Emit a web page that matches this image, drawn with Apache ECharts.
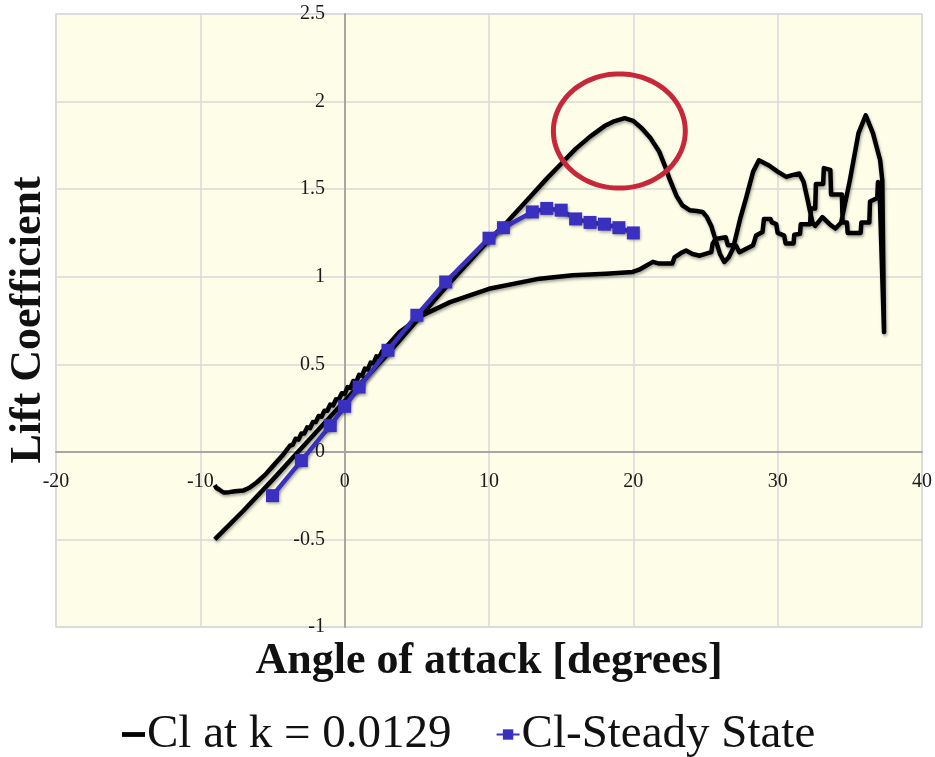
<!DOCTYPE html>
<html>
<head>
<meta charset="utf-8">
<title>Lift Coefficient vs Angle of attack</title>
<script src="https://cdn.jsdelivr.net/npm/echarts@6/dist/echarts.min.js"></script>
<style>
  html, body { margin: 0; padding: 0; background: #ffffff; }
  #chart { width: 935px; height: 757px; }
</style>
</head>
<body>
<div id="chart"></div>
<script>
// Oscillating airfoil, reduced frequency k = 0.0129: pitch-up branch
const dynUpAoa = [-9.0, -7.0, -5.0, -3.0, -1.0, 1.0, 3.0, 5.0, 7.0, 9.0, 10.0, 11.0, 12.0, 13.0, 14.0, 15.0,
  16.0, 17.0, 18.0, 18.6, 19.4, 20.0, 20.6, 21.2, 21.8, 22.2, 22.5, 23.0, 23.4, 23.9, 24.4, 24.8, 25.1,
  25.4, 25.6, 26.0, 26.3, 26.6, 26.9, 27.4, 27.8, 28.3, 28.7, 29.4, 30.0, 30.6, 31.0, 31.5, 31.8, 32.1,
  32.4, 32.6, 33.1, 33.6, 34.0, 34.4, 35.0, 35.6, 36.1, 36.6, 37.1, 37.25, 37.37];
const dynUpCl = [-0.50, -0.335, -0.16, 0.02, 0.20, 0.38, 0.56, 0.75, 0.94, 1.12, 1.21, 1.29, 1.38, 1.47, 1.56, 1.645,
  1.73, 1.80, 1.86, 1.885, 1.905, 1.89, 1.846, 1.79, 1.713, 1.63, 1.56, 1.46, 1.407, 1.38, 1.375, 1.37, 1.34,
  1.29, 1.236, 1.13, 1.084, 1.11, 1.16, 1.33, 1.446, 1.60, 1.665, 1.635, 1.60, 1.57, 1.58, 1.589, 1.541, 1.43,
  1.312, 1.29, 1.34, 1.30, 1.275, 1.31, 1.55, 1.82, 1.922, 1.82, 1.665, 1.55, 0.684];

// Pitch-down branch (returning from 37 deg back to -9 deg)
const dynDownAoa = [37.05, 36.95, 36.9, 36.4, 36.35, 35.8, 35.75, 34.85, 34.8, 34.5, 34.45, 33.7, 33.65, 33.2,
  33.15, 32.65, 32.6, 32.3, 32.25, 31.6, 31.55, 31.15, 31.1, 30.55, 30.45, 30.0, 29.9, 29.6, 29.5, 29.05,
  28.95, 28.5, 28.3, 27.35, 27.1, 26.55, 26.4, 25.7, 25.5, 25.4, 24.6, 24.1, 23.65, 23.4, 22.85, 22.7, 21.8,
  21.35, 20.4, 19.95, 18.1, 15.8, 13.5, 10.0, 7.3, 5.4, 3.8,
  3.0, 2.8, 2.6, 2.4, 2.2, 2.0, 1.8, 1.6, 1.4, 1.2, 1.0, 0.8, 0.6, 0.4, 0.2, 0.0, -0.2, -0.4, -0.6, -0.8,
  -1.0, -1.2, -1.4, -1.6, -1.8, -2.0, -2.2, -2.4, -2.6, -2.8, -3.0, -3.2, -3.4, -3.6, -3.8,
  -4.3, -4.96, -5.5, -6.1, -6.6, -7.0, -7.6, -8.0, -8.4, -8.7, -8.9, -9.0];
const dynDownCl = [1.52, 1.54, 1.45, 1.43, 1.31, 1.31, 1.25, 1.25, 1.31, 1.31, 1.47, 1.47, 1.61, 1.62,
  1.53, 1.53, 1.39, 1.39, 1.30, 1.30, 1.245, 1.24, 1.19, 1.19, 1.235, 1.25, 1.30, 1.31, 1.33, 1.33,
  1.255, 1.235, 1.18, 1.14, 1.18, 1.18, 1.225, 1.215, 1.19, 1.14, 1.12, 1.13, 1.15, 1.14, 1.11, 1.075, 1.075,
  1.085, 1.04, 1.027, 1.017, 1.008, 0.989, 0.931, 0.855, 0.78, 0.684,
  0.61, 0.575, 0.575, 0.54, 0.545, 0.505, 0.51, 0.47, 0.475, 0.435, 0.44, 0.40, 0.405, 0.365, 0.37, 0.33,
  0.335, 0.30, 0.30, 0.265, 0.27, 0.235, 0.235, 0.20, 0.205, 0.17, 0.17, 0.135, 0.14, 0.105, 0.105, 0.07,
  0.075, 0.04, 0.035,
  -0.02, -0.08, -0.13, -0.175, -0.205, -0.22, -0.225, -0.23, -0.232, -0.215, -0.205, -0.19];

// Steady-state polar
const steadyAoa = [-5, -3, -1, 0, 1, 3, 5, 7, 10, 11, 13, 14, 15, 16, 17, 18, 19, 20];
const steadyCl = [-0.25, -0.05, 0.15, 0.26, 0.37, 0.58, 0.78, 0.97, 1.22, 1.28, 1.37, 1.39, 1.38, 1.33, 1.31, 1.30, 1.28, 1.25];

// Highlighted dynamic-stall peak: centre [aoa, Cl] and half-extent [deg, Cl]
const stallCenter = [19.03, 1.832];
const stallRadius = [4.57, 0.326];

const xTicks = { min: -20, max: 40, step: 10 };
const yTicks = { min: -1, max: 2.5, step: 0.5 };

const seriesNames = ['Cl at k = 0.0129', 'Cl-Steady State'];

const pair = (xs, ys) => xs.map((x, i) => [x, ys[i]]);
const dynamicLoop = pair(dynUpAoa, dynUpCl).concat(pair(dynDownAoa, dynDownCl));
const steadyPolar = pair(steadyAoa, steadyCl);

// Plot frame and the offsets that put both axes through the origin
const W = 935, H = 757;
const gridBox = { left: 56, right: 12, top: 14, bottom: 130 };
const plotW = W - gridBox.left - gridBox.right;
const plotH = H - gridBox.top - gridBox.bottom;
const yAxisShift = -plotW * (0 - xTicks.min) / (xTicks.max - xTicks.min);
const xAxisShift = -plotH * (0 - yTicks.min) / (yTicks.max - yTicks.min);

const serif = '"Liberation Serif", "Times New Roman", serif';
const chart = echarts.init(document.getElementById('chart'), null, { renderer: 'canvas' });

const lineShadow = { shadowColor: 'rgba(0,0,0,0.35)', shadowBlur: 3, shadowOffsetX: 1, shadowOffsetY: 2 };

chart.setOption({
  backgroundColor: '#ffffff',
  animation: false,
  grid: Object.assign({
    show: true, backgroundColor: '#FDFDE8', borderColor: '#D9D9D9', borderWidth: 1.5
  }, gridBox),
  xAxis: {
    type: 'value', min: xTicks.min, max: xTicks.max, interval: xTicks.step,
    position: 'bottom', offset: xAxisShift,
    axisLine: { onZero: false, lineStyle: { color: '#A6A6A6', width: 2 } },
    axisTick: { show: false },
    splitLine: { lineStyle: { color: '#D9D9D9', width: 1.5 } },
    axisLabel: { fontFamily: serif, fontSize: 20, color: '#1a1a1a', margin: 20 }
  },
  yAxis: {
    type: 'value', min: yTicks.min, max: yTicks.max, interval: yTicks.step,
    position: 'left', offset: yAxisShift,
    axisLine: { onZero: false, lineStyle: { color: '#A6A6A6', width: 2 } },
    axisTick: { show: false },
    splitLine: { lineStyle: { color: '#D9D9D9', width: 1.5 } },
    axisLabel: { fontFamily: serif, fontSize: 20, color: '#1a1a1a', margin: 20, padding: [8, 0, 0, 0] }
  },
  legend: {
    data: [
      { name: seriesNames[0], icon: 'path://M0,0H24V5H0Z' },
      { name: seriesNames[1] }
    ],
    left: 117, top: 706,
    itemWidth: 23, itemHeight: 13, itemGap: 44,
    textStyle: { fontFamily: serif, fontSize: 47, color: '#111', padding: [0, 0, 0, -3] }
  },
  graphic: [
    {
      type: 'text', x: 29, y: 320, rotation: Math.PI / 2,
      style: { text: 'Lift Coefficient', font: 'bold 44px ' + serif, fill: '#111',
               textAlign: 'center', textVerticalAlign: 'middle' }
    },
    {
      type: 'text', x: 489, y: 662,
      style: { text: 'Angle of attack [degrees]', font: 'bold 44px ' + serif, fill: '#111',
               textAlign: 'center', textVerticalAlign: 'middle' }
    }
  ],
  series: [
    {
      name: seriesNames[0], type: 'line', data: dynamicLoop,
      symbol: 'none', z: 3,
      lineStyle: Object.assign({ color: '#000000', width: 4.5, join: 'round' }, lineShadow),
      itemStyle: { color: '#000000' }
    },
    {
      name: seriesNames[1], type: 'line', data: steadyPolar,
      symbol: 'rect', symbolSize: 13, z: 4,
      lineStyle: Object.assign({ color: '#3A30C0', width: 4.5 }, lineShadow),
      itemStyle: Object.assign({ color: '#3A30C0' }, lineShadow)
    },
    {
      type: 'custom', z: 5, silent: true,
      data: [[stallCenter[0], stallCenter[1], stallRadius[0], stallRadius[1]]],
      renderItem: function (params, api) {
        const c = api.coord([api.value(0), api.value(1)]);
        const s = api.size([api.value(2), api.value(3)]);
        const pts = [];
        for (let i = 0; i <= 120; i++) {
          const t = (i / 120) * Math.PI * 2;
          pts.push([c[0] + s[0] * Math.cos(t), c[1] + s[1] * Math.sin(t)]);
        }
        return {
          type: 'polygon',
          shape: { points: pts },
          style: { fill: 'none', stroke: '#C6283A', lineWidth: 5 }
        };
      }
    }
  ]
});
</script>
</body>
</html>
